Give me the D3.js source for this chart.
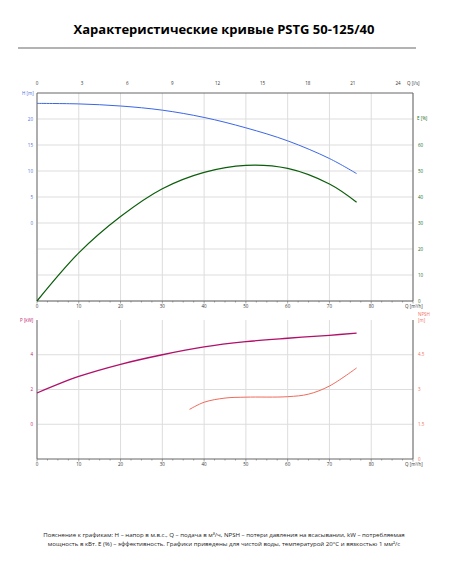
<!DOCTYPE html>
<html><head><meta charset="utf-8">
<script src="https://cdn.jsdelivr.net/npm/d3@7"></script>
<style>body{margin:0;background:#fff}svg{font-family:"Open Sans",sans-serif}</style>
</head><body><svg width="449" height="567"></svg>
<script>
// curves
const qH = [0, 10, 20, 30, 40, 50, 60, 70, 76.5];
const head = [23.0, 22.9, 22.5, 21.7, 20.3, 18.3, 15.8, 12.4, 9.5];
const qE = [0, 10, 20, 30, 40, 50, 60, 70, 76.5];
const eff = [0, 18.5, 32.5, 43.2, 49.5, 52.2, 51, 45, 38];
const qP = [0, 10, 20, 30, 40, 50, 60, 70, 76.5];
const power = [1.8, 2.75, 3.45, 4.0, 4.45, 4.75, 4.95, 5.12, 5.25];
const qN = [36.5, 40, 45, 50, 60, 65, 70, 76.5];
const npsh = [2.14, 2.45, 2.63, 2.67, 2.69, 2.8, 3.15, 3.93];
const qTicks = [0, 10, 20, 30, 40, 50, 60, 70, 80];
const lsTicks = [0, 3, 6, 9, 12, 15, 18, 21, 24];

const svg = d3.select("svg");
const x0 = 37, x1 = 413;
const x = d3.scaleLinear().domain([0, 90]).range([x0, x1]);
const xls = d3.scaleLinear().domain([0, 25]).range([x0, x1]);

svg.append("text").attr("x", 224).attr("y", 34).attr("text-anchor", "middle")
  .attr("font-size", 13).attr("font-weight", "bold").text("Характеристические кривые PSTG 50-125/40");
svg.append("line").attr("x1", 18).attr("x2", 416).attr("y1", 48).attr("y2", 48).attr("stroke", "#000").attr("stroke-width", 0.6);

function grid(g, top, bot, ys) {
  qTicks.concat([90]).forEach(v => g.append("line").attr("x1", x(v)).attr("x2", x(v)).attr("y1", top).attr("y2", bot).attr("stroke", "#ddd"));
  ys.forEach(y => g.append("line").attr("x1", x0).attr("x2", x1).attr("y1", y).attr("y2", y).attr("stroke", "#ddd"));
  g.append("line").attr("x1", x0).attr("x2", x0).attr("y1", top).attr("y2", bot).attr("stroke", "#999").attr("stroke-width", 1.5);
  g.append("line").attr("x1", x1).attr("x2", x1).attr("y1", top).attr("y2", bot).attr("stroke", "#666");
  g.append("line").attr("x1", x0).attr("x2", x1).attr("y1", bot).attr("y2", bot).attr("stroke", "#666");
}
function txt(xx, yy, s, col, anchor) {
  svg.append("text").attr("x", xx).attr("y", yy).attr("font-size", 4.5).attr("fill", col)
    .attr("text-anchor", anchor || "middle").text(s);
}
function qAxis(y) {
  qTicks.forEach(v => txt(x(v), y + 7, v, "#333"));
  txt(x1 - 8, y + 7, "Q [m³/h]", "#333", "start");
  d3.range(0, 91, 2.5).forEach(v => svg.append("line").attr("x1", x(v)).attr("x2", x(v)).attr("y1", y).attr("y2", y + (v % 10 ? 1.5 : 2.5)).attr("stroke", "#555").attr("stroke-width", 0.5));
}

// top chart
const t0 = 93, t1 = 301;
const yH = d3.scaleLinear().domain([-15, 25]).range([t1, t0]);
const yE = d3.scaleLinear().domain([0, 80]).range([t1, t0]);
grid(svg, t0, t1, d3.range(0, 80, 10).map(yE));
svg.append("line").attr("x1", x0).attr("x2", x1).attr("y1", t0).attr("y2", t0).attr("stroke", "#666");
lsTicks.forEach(v => txt(xls(v), 85, v, "#333"));
txt(x1 - 6, 85, "Q [l/s]", "#333", "start");
[0, 5, 10, 15, 20].forEach(v => txt(x0 - 4, yH(v) + 1.5, v, "#4a6fe0", "end"));
txt(x0 - 15, 95, "H [m]", "#4a6fe0", "start");
d3.range(0, 70, 10).forEach(v => txt(x1 + 5, yE(v) + 1.5, v, "#1a6b1a", "start"));
txt(x1 + 4, 120, "E [%]", "#1a6b1a", "start");
qAxis(t1);

const lineOf = (xs, ys, sx, sy) => d3.line().curve(d3.curveCatmullRom.alpha(0.5)).x((d, i) => sx(xs[i])).y(d => sy(d))(ys);
svg.append("path").attr("d", lineOf(qH, head, x, yH)).attr("fill", "none").attr("stroke", "#3a66e8").attr("stroke-width", 1);
svg.append("path").attr("d", lineOf(qE, eff, x, yE)).attr("fill", "none").attr("stroke", "#0b5e0b").attr("stroke-width", 1.2);

// bottom chart
const b0 = 320, b1 = 459;
const yP = d3.scaleLinear().domain([-2, 6]).range([b1, b0]);
const yN = d3.scaleLinear().domain([0, 6]).range([b1, b0]);
grid(svg, b0, b1, [0, 2, 4].map(yP));
[0, 2, 4].forEach(v => txt(x0 - 4, yP(v) + 1.5, v, "#c0186c", "end"));
txt(x0 - 17, 322, "P [kW]", "#c0186c", "start");
[0, 1.5, 3, 4.5].forEach(v => txt(x1 + 5, yN(v) + 1.5, v, "#f07060", "start"));
txt(x1 + 5, 316, "NPSH", "#f07060", "start");
txt(x1 + 5, 322, "[m]", "#f07060", "start");
qAxis(b1);
svg.append("path").attr("d", lineOf(qP, power, x, yP)).attr("fill", "none").attr("stroke", "#b0106a").attr("stroke-width", 1.3);
svg.append("path").attr("d", lineOf(qN, npsh, x, yN)).attr("fill", "none").attr("stroke", "#f06a5a").attr("stroke-width", 1);

// note
const note = ["Пояснение к графикам: H – напор в м.в.с., Q – подача в м³/ч, NPSH – потери давления на всасывании, kW – потребляемая",
  "мощность в кВт. E (%) – эффективность.  Графики приведены для чистой воды, температурой 20°C и вязкостью 1 мм²/с"];
note.forEach((s, i) => svg.append("text").attr("x", 224).attr("y", 537 + i * 9).attr("text-anchor", "middle")
  .attr("font-size", 6.1).attr("fill", "#222").text(s));
</script></body></html>
